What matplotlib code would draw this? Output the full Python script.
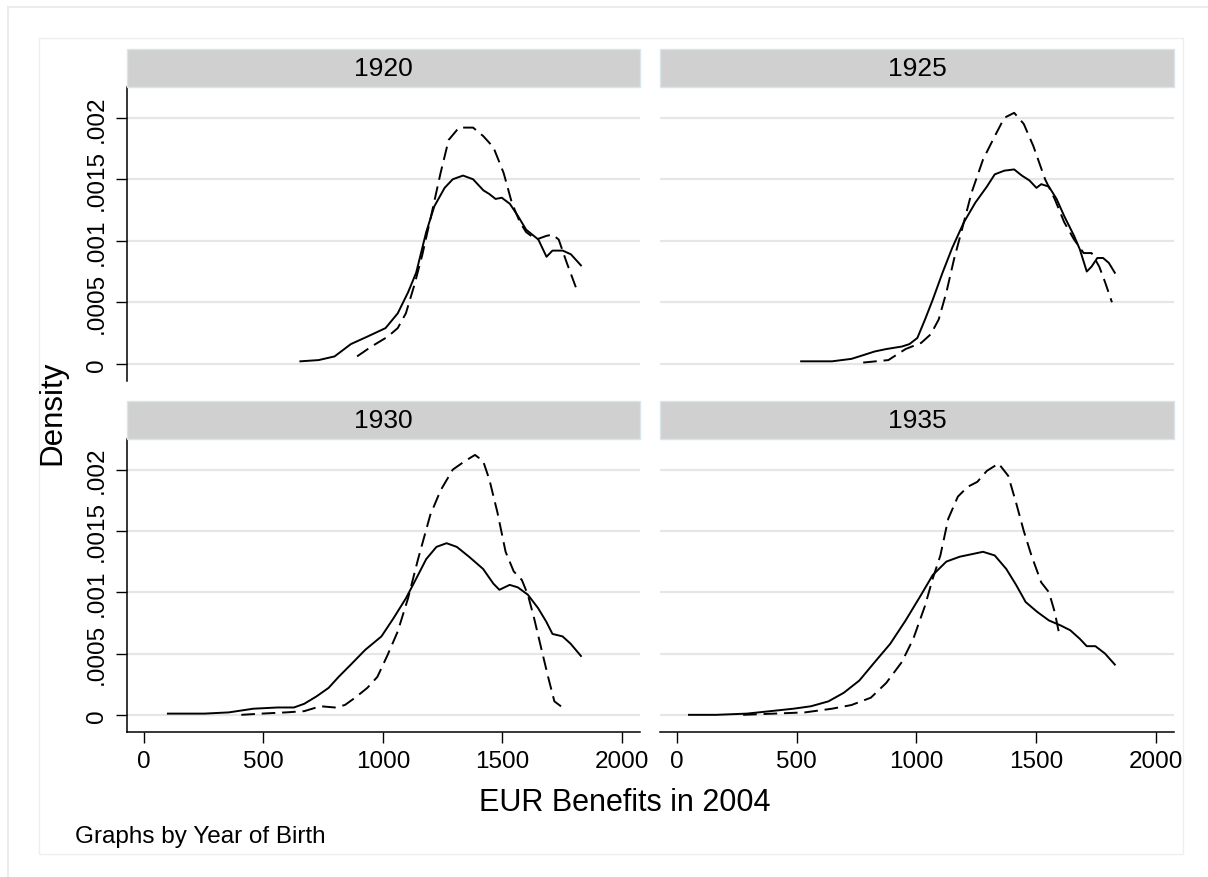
import matplotlib

matplotlib.use("Agg")
import matplotlib.pyplot as plt
from matplotlib.patches import Rectangle

plt.rcParams["font.family"] = ["Liberation Sans", "DejaVu Sans"]

YEARS = ["1920", "1925", "1930", "1935"]
X_TICKS = [0, 500, 1000, 1500, 2000]
Y_TICKS = [0, 0.0005, 0.001, 0.0015, 0.002]
Y_TICK_LABELS = ["0", ".0005", ".001", ".0015", ".002"]

# 1920
X_1920_SOLID = [655, 731, 798, 866, 934, 1011, 1062, 1105, 1139, 1181, 1215, 1258, 1292, 1335, 1377,
                1420, 1445, 1471, 1497, 1531, 1565, 1599, 1650, 1684, 1709, 1752, 1786, 1828]
Y_1920_SOLID = [0.00002, 0.00003, 0.00006, 0.00016, 0.00022, 0.00029, 0.00041, 0.00058, 0.00074,
                0.00107, 0.00128, 0.00143, 0.0015, 0.00153, 0.0015, 0.00141, 0.00138, 0.00134,
                0.00135, 0.0013, 0.0012, 0.00109, 0.00101, 0.00087, 0.00092, 0.00092, 0.00089, 0.0008]
X_1920_DASH = [892, 952, 1020, 1062, 1096, 1130, 1164, 1207, 1241, 1275, 1318, 1377, 1420, 1462,
               1505, 1539, 1573, 1599, 1641, 1684, 1709, 1735, 1769, 1811]
Y_1920_DASH = [0.00006, 0.00014, 0.00022, 0.00029, 0.00041, 0.00063, 0.00088, 0.00125, 0.00155,
               0.00182, 0.00192, 0.00192, 0.00185, 0.00176, 0.00155, 0.00131, 0.00115, 0.00107,
               0.00101, 0.00104, 0.00105, 0.00101, 0.00082, 0.0006]

# 1925
X_1925_SOLID = [519, 648, 729, 778, 826, 875, 939, 971, 1004, 1036, 1068, 1109, 1149, 1198, 1246,
                1294, 1327, 1367, 1408, 1440, 1472, 1501, 1521, 1553, 1585, 1617, 1658, 1682, 1711,
                1731, 1755, 1779, 1803, 1828]
Y_1925_SOLID = [0.00002, 0.00002, 0.00004, 0.00007, 0.0001, 0.00012, 0.00014, 0.00016, 0.00021,
                0.00036, 0.00052, 0.00074, 0.00094, 0.00115, 0.00131, 0.00144, 0.00154, 0.00157,
                0.00158, 0.00153, 0.00149, 0.00143, 0.00146, 0.00144, 0.00134, 0.0012, 0.00104,
                0.00093, 0.00075, 0.00079, 0.00086, 0.00086, 0.00082, 0.00074]
X_1925_DASH = [778, 883, 955, 1020, 1060, 1093, 1125, 1157, 1190, 1230, 1278, 1327, 1367, 1408,
               1448, 1488, 1537, 1577, 1617, 1658, 1698, 1731, 1763, 1788, 1816]
Y_1925_DASH = [0.00001, 0.00003, 0.00012, 0.00017, 0.00024, 0.00036, 0.00058, 0.00085, 0.00109,
               0.00139, 0.00166, 0.00185, 0.002, 0.00204, 0.00195, 0.00177, 0.0015, 0.00134,
               0.00115, 0.00101, 0.0009, 0.0009, 0.00079, 0.00066, 0.0005]

# 1930
X_1930_SOLID = [101, 254, 356, 458, 560, 628, 671, 722, 773, 815, 866, 926, 994, 1045, 1096, 1139,
                1181, 1224, 1266, 1309, 1360, 1419, 1462, 1487, 1530, 1564, 1606, 1649, 1683, 1709,
                1751, 1785, 1828]
Y_1930_SOLID = [0.00001, 0.00001, 0.00002, 0.00005, 0.00006, 0.00006, 0.00009, 0.00015, 0.00022,
                0.00031, 0.00041, 0.00053, 0.00064, 0.00079, 0.00095, 0.00111, 0.00127, 0.00137,
                0.0014, 0.00137, 0.00129, 0.00119, 0.00107, 0.00102, 0.00106, 0.00104, 0.00098,
                0.00087, 0.00076, 0.00066, 0.00064, 0.00058, 0.00048]
X_1930_DASH = [408, 493, 595, 671, 739, 799, 841, 884, 935, 977, 1020, 1062, 1105, 1147, 1198, 1241,
               1292, 1343, 1385, 1419, 1445, 1479, 1513, 1547, 1581, 1606, 1632, 1666, 1692, 1717,
               1751]
Y_1930_DASH = [0.0, 0.00001, 0.00002, 0.00003, 0.00007, 0.00006, 0.00008, 0.00014, 0.00022, 0.00031,
               0.00049, 0.00068, 0.00095, 0.00127, 0.00163, 0.00183, 0.002, 0.00207, 0.00212,
               0.00207, 0.00192, 0.00165, 0.00133, 0.00117, 0.0011, 0.00098, 0.00079, 0.00051,
               0.0003, 0.00011, 0.00006]

# 1935
X_1935_SOLID = [51, 164, 293, 390, 487, 560, 633, 697, 762, 826, 891, 955, 1020, 1068, 1125, 1181,
                1230, 1278, 1327, 1375, 1416, 1456, 1504, 1553, 1601, 1642, 1682, 1711, 1747, 1787,
                1828]
Y_1935_SOLID = [0.0, 0.0, 0.00001, 0.00003, 0.00005, 0.00007, 0.00011, 0.00018, 0.00028, 0.00043,
                0.00058, 0.00077, 0.00098, 0.00114, 0.00125, 0.00129, 0.00131, 0.00133, 0.0013,
                0.00119, 0.00106, 0.00092, 0.00084, 0.00077, 0.00073, 0.00069, 0.00062, 0.00056,
                0.00056, 0.0005, 0.00041]
X_1935_DASH = [277, 406, 535, 648, 729, 810, 874, 939, 987, 1036, 1068, 1100, 1133, 1173, 1214, 1254,
               1294, 1343, 1383, 1416, 1448, 1480, 1521, 1553, 1577, 1598]
Y_1935_DASH = [0.0, 0.00001, 0.00002, 0.00005, 0.00008, 0.00014, 0.00026, 0.00043, 0.00062,
               0.00089, 0.00111, 0.0013, 0.0016, 0.00178, 0.00186, 0.0019, 0.00199, 0.00205,
               0.00195, 0.00173, 0.0015, 0.0013, 0.00108, 0.001, 0.00084, 0.00064]

SERIES = {
    "1920": (X_1920_SOLID, Y_1920_SOLID, X_1920_DASH, Y_1920_DASH),
    "1925": (X_1925_SOLID, Y_1925_SOLID, X_1925_DASH, Y_1925_DASH),
    "1930": (X_1930_SOLID, Y_1930_SOLID, X_1930_DASH, Y_1930_DASH),
    "1935": (X_1935_SOLID, Y_1935_SOLID, X_1935_DASH, Y_1935_DASH),
}

W, H = 1208, 878
COLS = [(127, 640), (660, 1174)]
ROWS = [(88, 382), (440, 733)]
STRIP_H = 38
GRID = "#e6e6e6"


def box(x0, y0, x1, y1):
    return [x0 / W, 1 - y1 / H, (x1 - x0) / W, (y1 - y0) / H]


fig = plt.figure(figsize=(W / 100, H / 100), dpi=100)
fig.patches.append(Rectangle((8 / W, -0.1), 1.2, 1 - 8 / H + 0.1, transform=fig.transFigure,
                             fill=False, edgecolor="#ebebeb", lw=1.5))
fig.patches.append(Rectangle((39 / W, 1 - 855 / H), (1183 - 39) / W, (855 - 39) / H,
                             transform=fig.transFigure, fill=False, edgecolor="#eeeeee", lw=1.0))

for idx, year in enumerate(YEARS):
    r, c = divmod(idx, 2)
    x0, x1 = COLS[c]
    y0, y1 = ROWS[r]

    # strip header
    fig.patches.append(Rectangle((x0 / W, 1 - y0 / H), (x1 - x0) / W, STRIP_H / H,
                                 transform=fig.transFigure, facecolor="#d0d0d0",
                                 edgecolor="#d9e5ec", lw=1.0))
    fig.text((x0 + x1) / 2 / W, 1 - (y0 - STRIP_H / 2) / H, year, ha="center", va="center",
             fontsize=19)

    ax = fig.add_axes(box(x0, y0, x1, y1))
    xs, ys, xd, yd = SERIES[year]
    ax.plot(xs, ys, color="black", lw=1.4)
    ax.plot(xd, yd, color="black", lw=1.4, dashes=(7, 3.5))
    ax.set_xlim(-70, 2075)
    ax.set_ylim(-0.00014, 0.00225)
    ax.set_yticks(Y_TICKS)
    ax.set_xticks(X_TICKS)
    ax.grid(axis="y", color=GRID, lw=1.6)
    ax.set_axisbelow(True)
    for side in ("top", "right"):
        ax.spines[side].set_visible(False)
    ax.spines["left"].set_visible(c == 0)
    ax.spines["bottom"].set_visible(r == 1)
    for side in ("left", "bottom"):
        ax.spines[side].set_linewidth(1.1)

    if c == 0:
        ax.set_yticklabels(Y_TICK_LABELS, rotation=90, va="center", fontsize=17.5)
        ax.tick_params(axis="y", length=8, width=1.0, pad=6)
    else:
        ax.tick_params(axis="y", length=0, labelleft=False)
    if r == 1:
        ax.set_xticklabels([str(t) for t in X_TICKS], fontsize=17.5)
        ax.tick_params(axis="x", length=8, width=1.0, pad=5)
    else:
        ax.tick_params(axis="x", length=0, labelbottom=False)

fig.text(52 / W, 1 - 413 / H, "Density", rotation=90, ha="center", va="center", fontsize=22.5)
fig.text(625 / W, 1 - 803 / H, "EUR Benefits in 2004", ha="center", va="center", fontsize=22)
fig.text(75 / W, 1 - 837 / H, "Graphs by Year of Birth", ha="left", va="center", fontsize=17.5)

fig.savefig("out.png", dpi=100, facecolor="white")
